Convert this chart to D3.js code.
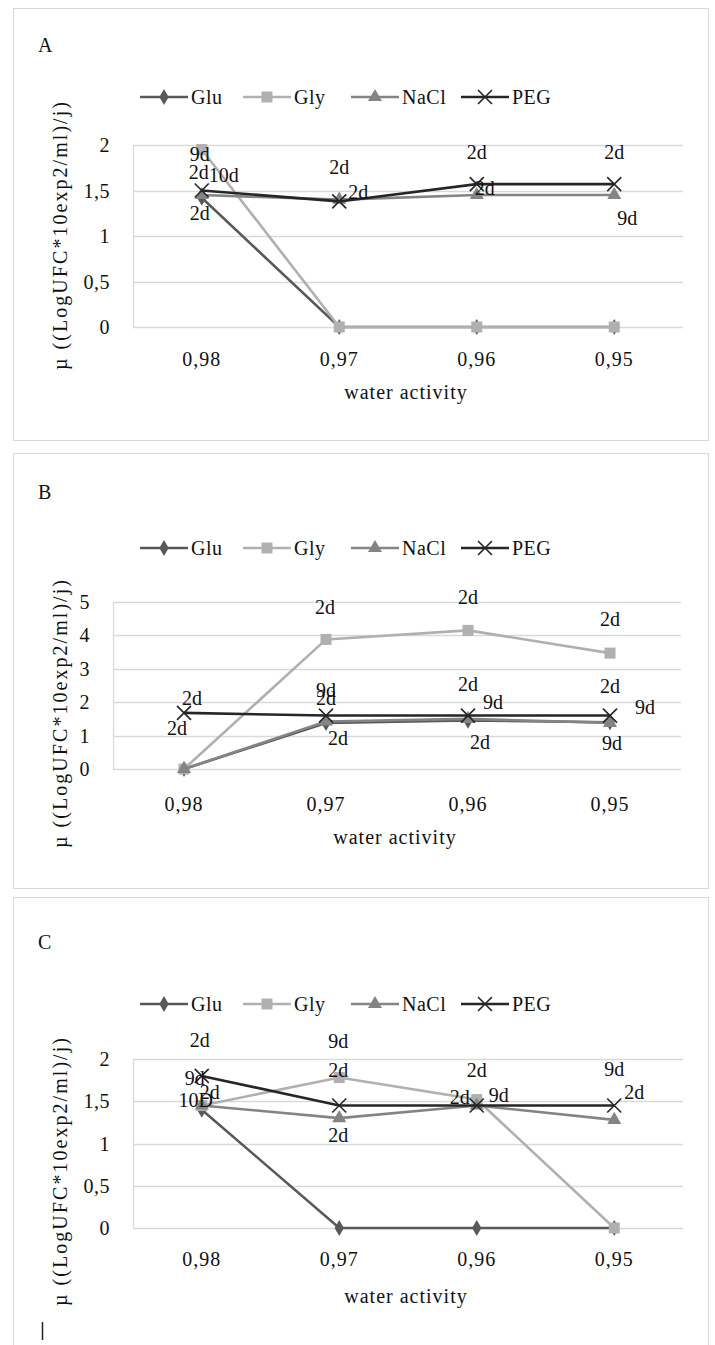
<!DOCTYPE html>
<html>
<head>
<meta charset="utf-8">
<script src="https://cdn.jsdelivr.net/npm/d3@7"></script>
<style>
  body { margin: 0; background: #fff; }
</style>
</head>
<body>
<div id="chart"></div>
<script>
// categories and series
const categories = ['0,98', '0,97', '0,96', '0,95']
const seriesNames = ['Glu', 'Gly', 'NaCl', 'PEG']

// panel A values
const gluA = [1.42, 0, 0, 0]
const glyA = [1.95, 0, 0, 0]
const naclA = [1.45, 1.4, 1.45, 1.45]
const pegA = [1.5, 1.38, 1.57, 1.57]

// panel B values
const gluB = [0, 1.38, 1.45, 1.4]
const glyB = [0, 3.88, 4.15, 3.47]
const naclB = [0, 1.42, 1.5, 1.38]
const pegB = [1.68, 1.6, 1.6, 1.6]

// panel C values
const gluC = [1.4, 0, 0, 0]
const glyC = [1.45, 1.78, 1.52, 0]
const naclC = [1.45, 1.3, 1.45, 1.28]
const pegC = [1.8, 1.45, 1.45, 1.45]

// y ticks
const ticksA = [0, 0.5, 1, 1.5, 2]
const ticksB = [0, 1, 2, 3, 4, 5]
const ticksC = [0, 0.5, 1, 1.5, 2]

// data labels: [series, category index, text]
const labelsA = [['Gly', 0, '9d'], ['PEG', 0, '2d'], ['NaCl', 0, '10d'], ['Glu', 0, '2d'],
    ['PEG', 1, '2d'], ['NaCl', 1, '2d'], ['PEG', 2, '2d'], ['NaCl', 2, '2d'],
    ['PEG', 3, '2d'], ['NaCl', 3, '9d']]
const labelsB = [['PEG', 0, '2d'], ['NaCl', 0, '2d'], ['Gly', 1, '2d'], ['PEG', 1, '9d'],
    ['NaCl', 1, '2d'], ['Glu', 1, '2d'], ['Gly', 2, '2d'], ['PEG', 2, '2d'], ['NaCl', 2, '9d'],
    ['Glu', 2, '2d'], ['Gly', 3, '2d'], ['PEG', 3, '2d'], ['NaCl', 3, '9d'], ['Glu', 3, '9d']]
const labelsC = [['PEG', 0, '2d'], ['Gly', 0, '9d'], ['NaCl', 0, '2d'], ['Glu', 0, '10D'],
    ['Gly', 1, '9d'], ['PEG', 1, '2d'], ['NaCl', 1, '2d'], ['Gly', 2, '2d'], ['NaCl', 2, '2d'],
    ['PEG', 2, '9d'], ['PEG', 3, '9d'], ['NaCl', 3, '2d']]

// label offsets from the point (layout only), same order as labels above
const offsetsA = [[-2, 4], [-3, -19], [22, -20], [-2, 15], [0, -34], [19, -8], [0, -32], [8, -7], [0, -32], [13, 23]]
const offsetsB = [[8, -15], [-7, -41], [-1, -32], [0, -26], [0, -24], [12, 15], [0, -33], [0, -32], [25, -17], [12, 21], [0, -34], [0, -30], [35, -16], [2, 21]]
const offsetsC = [[-2, -36], [-7, -27], [8, -13], [-6, -10], [-1, -37], [-1, -35], [-1, 17], [0, -30], [-17, -8], [22, -10], [0, -36], [20, -28]]

const colors = { Glu: '#595959', Gly: '#b0b0b0', NaCl: '#848484', PEG: '#262626' }
const font = '"Liberation Serif", "Times New Roman", "DejaVu Serif", serif'

const panels = [
    { name: 'A', values: [gluA, glyA, naclA, pegA], ticks: ticksA, max: 2, labels: labelsA, offsets: offsetsA,
      box: [13, 8, 695, 432], plot: [133, 145, 683, 327], legendY: 97, titleY: 52, xLabY: 366, xTitleY: 399, yTitleEnd: 370 },
    { name: 'B', values: [gluB, glyB, naclB, pegB], ticks: ticksB, max: 5, labels: labelsB, offsets: offsetsB,
      box: [13, 453, 695, 435], plot: [113, 602, 681, 769], legendY: 548, titleY: 499, xLabY: 811, xTitleY: 844, yTitleEnd: 848 },
    { name: 'C', values: [gluC, glyC, naclC, pegC], ticks: ticksC, max: 2, labels: labelsC, offsets: offsetsC,
      box: [13, 897, 695, 470], plot: [133, 1059, 683, 1228], legendY: 1004, titleY: 949, xLabY: 1266, xTitleY: 1303, yTitleEnd: 1306 }
]

const svg = d3.select('#chart')
    .append('svg')
        .attr('width', 715)
        .attr('height', 1345)
        .attr('font-family', font)
        .attr('font-size', 20)
        .attr('fill', '#111')

function marker(g, name, x, y) {
    const c = colors[name]
    if (name === 'Glu') {
        g.append('path').attr('d', d3.symbol(d3.symbolDiamond, 75)())
            .attr('transform', `translate(${x},${y})`).attr('fill', c)
    } else if (name === 'Gly') {
        g.append('rect').attr('x', x - 5.5).attr('y', y - 5.5).attr('width', 11).attr('height', 11).attr('fill', c)
    } else if (name === 'NaCl') {
        g.append('path').attr('d', d3.symbol(d3.symbolTriangle, 85)())
            .attr('transform', `translate(${x},${y})`).attr('fill', c)
    } else {
        g.append('path').attr('d', `M${x - 7},${y - 7}L${x + 7},${y + 7}M${x - 7},${y + 7}L${x + 7},${y - 7}`)
            .attr('stroke', c).attr('stroke-width', 1.6)
    }
}

panels.forEach(p => {
    const g = svg.append('g')
    const [bx, by, bw, bh] = p.box
    g.append('rect').attr('x', bx + 0.5).attr('y', by + 0.5).attr('width', bw).attr('height', bh)
        .attr('fill', 'none').attr('stroke', '#d9d9d9')

    g.append('text').attr('x', 38).attr('y', p.titleY).text(p.name)

    const [x0, y0, x1, y1] = p.plot
    const xScale = d3.scaleBand().domain(categories).range([x0, x1])
    const yScale = d3.scaleLinear().domain([0, p.max]).range([y1, y0])
    const cx = i => xScale(categories[i]) + xScale.bandwidth() / 2

    // gridlines
    g.append('g').selectAll('line').data(p.ticks).join('line')
        .attr('x1', x0).attr('x2', x1)
        .attr('y1', d => Math.round(yScale(d)) + 0.5).attr('y2', d => Math.round(yScale(d)) + 0.5)
        .attr('stroke', '#d9d9d9').attr('stroke-width', 1.3)
    g.append('line').attr('x1', x0 + 0.5).attr('x2', x0 + 0.5).attr('y1', y0).attr('y2', y1)
        .attr('stroke', '#d9d9d9').attr('stroke-width', 1.3)

    // y tick labels
    g.append('g').selectAll('text').data(p.ticks).join('text')
        .attr('x', x0 - 23).attr('y', d => yScale(d)).attr('dy', '0.35em')
        .attr('text-anchor', 'end').attr('letter-spacing', 0.5)
        .text(d => String(d).replace('.', ','))

    // x labels
    g.append('g').selectAll('text').data(categories).join('text')
        .attr('x', (d, i) => cx(i)).attr('y', p.xLabY)
        .attr('text-anchor', 'middle').attr('letter-spacing', 1).text(d => d)

    g.append('text').attr('x', (x0 + x1) / 2 - 2).attr('y', p.xTitleY)
        .attr('text-anchor', 'middle').attr('letter-spacing', 1).text('water activity')

    g.append('text')
        .attr('transform', `translate(67,${p.yTitleEnd}) rotate(-90)`)
        .attr('textLength', 268).attr('lengthAdjust', 'spacing')
        .text('µ ((LogUFC*10exp2/ml)/j)')

    // lines
    const line = d3.line().x((d, i) => cx(i)).y(d => yScale(d))
    seriesNames.forEach((s, k) => {
        g.append('path').datum(p.values[k]).attr('d', line)
            .attr('fill', 'none').attr('stroke', colors[s]).attr('stroke-width', 2.6)
        p.values[k].forEach((v, i) => marker(g, s, cx(i), yScale(v)))
    })

    // data labels
    p.labels.forEach(([s, i, t], j) => {
        const v = p.values[seriesNames.indexOf(s)][i]
        const [dx, dy] = p.offsets[j]
        g.append('text').attr('x', cx(i) + dx).attr('y', yScale(v) + dy).attr('dy', '0.35em')
            .attr('text-anchor', 'middle').text(t)
    })

    // legend
    const legendX = [140, 243, 351, 461]
    seriesNames.forEach((s, k) => {
        const lx = legendX[k]
        g.append('line').attr('x1', lx).attr('x2', lx + 48).attr('y1', p.legendY).attr('y2', p.legendY)
            .attr('stroke', colors[s]).attr('stroke-width', 2.6)
        marker(g, s, lx + 24, p.legendY)
        g.append('text').attr('x', lx + 51).attr('y', p.legendY).attr('dy', '0.35em')
            .attr('letter-spacing', 0.5).text(s)
    })
})

// stray cursor mark at the bottom
svg.append('line').attr('x1', 42.5).attr('x2', 42.5).attr('y1', 1322).attr('y2', 1340)
    .attr('stroke', '#222').attr('stroke-width', 1.5)
</script>
</body>
</html>
